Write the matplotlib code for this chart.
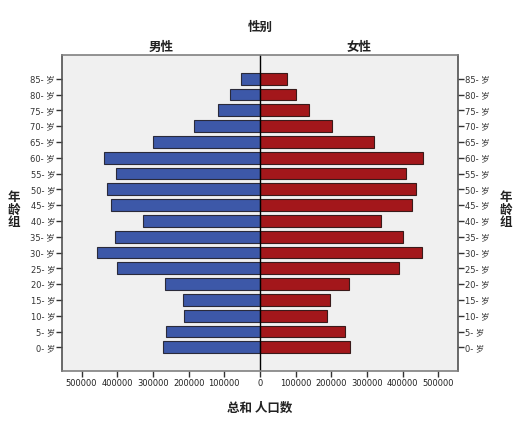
import matplotlib
matplotlib.use("Agg")
import matplotlib.pyplot as plt
import numpy as np

plt.rcParams['font.family'] = ['DejaVu Sans', 'Noto Sans CJK SC']

age_groups = ["0-", "5-", "10-", "15-", "20-", "25-", "30-", "35-", "40-", "45-",
              "50-", "55-", "60-", "65-", "70-", "75-", "80-", "85-"]
male = [272000, 264000, 212000, 217000, 266000, 400000, 458000, 407000, 329000,
        417000, 430000, 403000, 437000, 300000, 184000, 117000, 84000, 54000]
female = [252000, 237000, 188000, 197000, 250000, 391000, 455000, 401000, 338000,
          426000, 438000, 408000, 458000, 319000, 201000, 137000, 100000, 75000]
x_ticks = [-500000, -400000, -300000, -200000, -100000, 0,
           100000, 200000, 300000, 400000, 500000]
x_tick_labels = ["500000", "400000", "300000", "200000", "100000", "0",
                 "100000", "200000", "300000", "400000", "500000"]

W, H = 530, 424
fig = plt.figure(figsize=(W/100, H/100), dpi=100)
fig.patch.set_facecolor('white')
ax = fig.add_axes([62/W, (H-371)/H, (458-62)/W, (371-55)/H])
ax.set_facecolor('#f0f0f0')

y = np.arange(len(age_groups))
ax.barh(y, -np.array(male), height=0.75, color='#3d58a8', edgecolor='#2a2a3a', linewidth=0.8)
ax.barh(y, female, height=0.75, color='#a3171b', edgecolor='#3a1a1a', linewidth=0.8)
ax.axvline(0, color='black', lw=1)

ax.set_xlim(-555000, 555000)
ax.set_ylim(-1.5, len(age_groups) + 0.5)
ax.set_xticks(x_ticks)
ax.set_xticklabels(x_tick_labels, fontsize=6, color='#222222')
ax.set_yticks(y)
ax.set_yticklabels([a + " 岁" for a in age_groups], fontsize=6, color='#333333')
ax.tick_params(axis='y', left=True, right=True, labelleft=True, labelright=True,
               length=4, width=1, color='#333333', pad=1)
ax.tick_params(axis='x', length=4, width=1, color='#333333', pad=2)

for side in ['top', 'right', 'bottom']:
    ax.spines[side].set_color('#808080')
    ax.spines[side].set_linewidth(1.2)
ax.spines['left'].set_color('#505050')
ax.spines['left'].set_linewidth(1.2)
ax.spines['right'].set_color('#505050')

fs = dict(family=['Noto Sans CJK SC'], fontweight='bold', color='#222222')
fig.text(260/W, 1 - 27/H, "性别", ha='center', va='center', fontsize=9, **fs)
fig.text(161/W, 1 - 47/H, "男性", ha='center', va='center', fontsize=9, **fs)
fig.text(359/W, 1 - 47/H, "女性", ha='center', va='center', fontsize=9, **fs)
fig.text(260/W, 1 - 408/H, "总和 人口数", ha='center', va='center', fontsize=9, **fs)
fig.text(14/W, 1 - 210/H, "年\n龄\n组", ha='center', va='center', fontsize=9,
         linespacing=0.95, **fs)
fig.text(506/W, 1 - 210/H, "年\n龄\n组", ha='center', va='center', fontsize=9,
         linespacing=0.95, **fs)

fig.savefig("out.png", dpi=100)
